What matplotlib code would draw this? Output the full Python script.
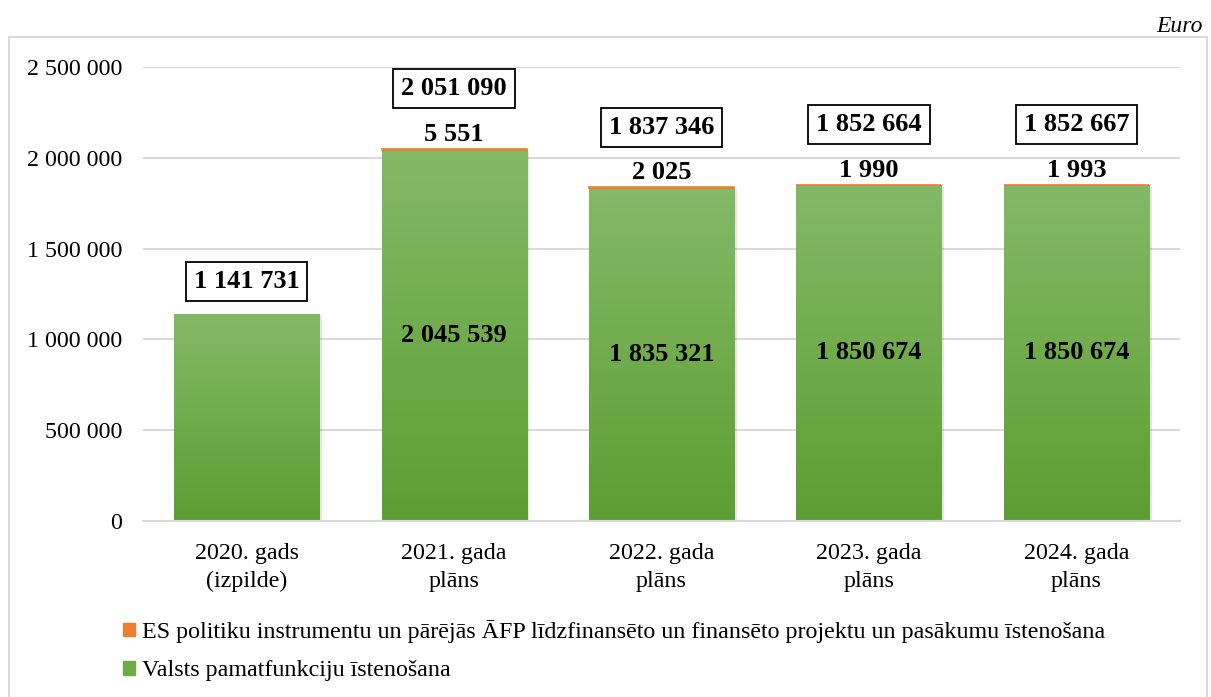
import numpy as np
import matplotlib.pyplot as plt
from matplotlib.patches import Rectangle, Patch
import matplotlib.patheffects as pe
from matplotlib.colors import LinearSegmentedColormap

plt.rcParams['font.family'] = ['Liberation Serif', 'DejaVu Serif']

# data
categories = ["2020. gads\n(izpilde)", "2021. gada\nplāns", "2022. gada\nplāns",
              "2023. gada\nplāns", "2024. gada\nplāns"]
valsts = [1141731, 2045539, 1835321, 1850674, 1850674]
es_proj = [0, 5551, 2025, 1990, 1993]
totals = [1141731, 2051090, 1837346, 1852664, 1852667]
leg_es = "ES politiku instrumentu un pārējās ĀFP līdzfinansēto un finansēto projektu un pasākumu īstenošana"
leg_valsts = "Valsts pamatfunkciju īstenošana"

green_top = "#84b967"
green_bot = "#5d9e33"
orange = "#ed7d31"

fig = plt.figure(figsize=(12.11, 6.97), dpi=100)
ax = fig.add_axes([143/1211, 176/697, (1180-143)/1211, (521-67)/697])

# outer border
fig.patches.append(Rectangle((9/1211, -0.05), (1207-9)/1211, (697-37)/697 + 0.05,
                             transform=fig.transFigure, fill=False,
                             edgecolor="#d9d9d9", lw=1.5))
fig.text(1203/1211, 1-26/697, "Euro", ha="right", va="center",
         fontsize=17, style="italic")

x = np.arange(len(categories))
w = 0.70
cmap = LinearSegmentedColormap.from_list("g", [green_bot, green_top])
grad = np.linspace(0, 1, 256).reshape(-1, 1)

bars = ax.bar(x, valsts, w, color=green_top, zorder=2,
              path_effects=[pe.SimplePatchShadow(offset=(2, -1), alpha=0.12, rho=0.3),
                            pe.Normal()])
for b in bars:
    x0, y0 = b.get_x(), b.get_y()
    im = ax.imshow(grad, cmap=cmap, origin="lower", aspect="auto",
                   extent=[x0, x0 + b.get_width(), y0, y0 + b.get_height()],
                   zorder=2.5)
    im.set_clip_path(b)

top = ax.bar(x, es_proj, w, bottom=valsts, color=orange, edgecolor=orange, lw=1.2, zorder=3)
for b, v in zip(top, es_proj):
    if v == 0:
        b.set_linewidth(0)

for i in range(len(x)):
    if i > 0:
        ax.text(x[i], valsts[i] / 2, f"{valsts[i]:,}".replace(",", " "),
                ha="center", va="center", fontsize=19, fontweight="bold", zorder=4)
    if es_proj[i] > 0:
        ax.annotate(f"{es_proj[i]:,}".replace(",", " "), (x[i], totals[i]),
                    xytext=(0, 3), textcoords="offset pixels", ha="center", va="bottom",
                    fontsize=19, fontweight="bold", zorder=4)
        off = 60
    else:
        off = 32
    ax.annotate(f"{totals[i]:,}".replace(",", " "), (x[i], totals[i]),
                xytext=(0, off), textcoords="offset pixels", ha="center", va="center",
                fontsize=19, fontweight="bold", zorder=4,
                bbox=dict(boxstyle="square,pad=0.3", fc="white", ec="black", lw=1.3))

ax.set_xlim(-0.5, 4.5)
ax.set_ylim(0, 2500000)
ax.set_yticks(np.arange(0, 2500001, 500000))
ax.set_yticklabels([f"{int(v):,}".replace(",", " ") for v in ax.get_yticks()])
ax.set_xticks(x)
ax.set_xticklabels(categories, linespacing=1.4)
ax.tick_params(axis="y", length=0, pad=15, labelsize=17.3)
ax.tick_params(axis="x", length=0, pad=16, labelsize=17.3)
ax.grid(axis="y", color="#d9d9d9", lw=1.5, zorder=0)
ax.set_axisbelow(True)
for s in ["top", "right", "left"]:
    ax.spines[s].set_visible(False)
ax.spines["bottom"].set_color("#d9d9d9")
ax.spines["bottom"].set_linewidth(1.5)

handles = [Patch(color=orange), Patch(color="#6faa48")]
fig.legend(handles, [leg_es, leg_valsts], loc="upper left",
           bbox_to_anchor=(123/1211, 1-620/697), frameon=False, fontsize=17.3,
           handlelength=0.5, handleheight=0.5, handletextpad=0.3,
           labelspacing=0.72, borderpad=0, borderaxespad=0)

fig.savefig("out.png", dpi=100)
